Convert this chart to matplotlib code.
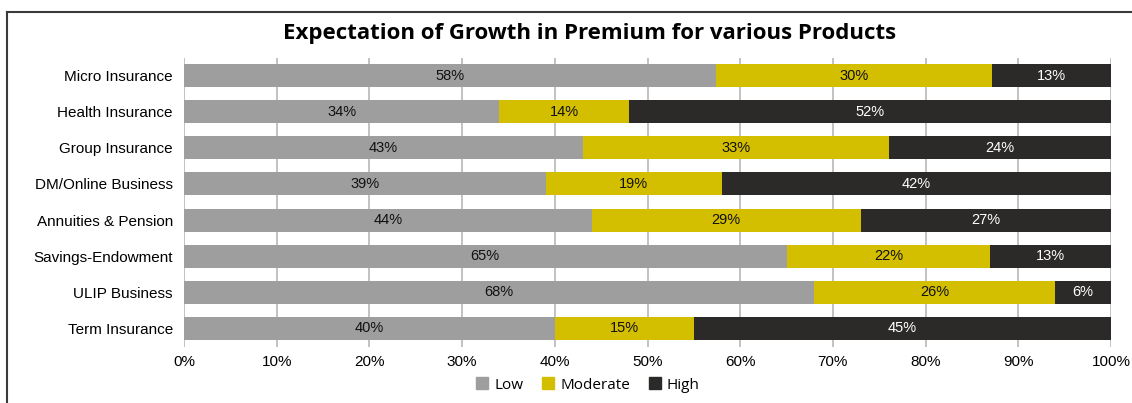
import numpy as np
import matplotlib.pyplot as plt
from matplotlib.lines import Line2D
from matplotlib.patches import Patch

products = ["Micro Insurance", "Health Insurance", "Group Insurance", "DM/Online Business",
            "Annuities & Pension", "Savings-Endowment", "ULIP Business", "Term Insurance"]
low = [58, 34, 43, 39, 44, 65, 68, 40]
moderate = [30, 14, 33, 19, 29, 22, 26, 15]
high = [13, 52, 24, 42, 27, 13, 6, 45]

series = ["Low", "Moderate", "High"]
colors = ["#9d9e9d", "#d3be00", "#2b2a28"]
text_colors = ["#111111", "#111111", "#ffffff"]


def plot_chart():
    """Draw the 100% stacked bar chart."""
    fig = plt.figure(figsize=(11.32, 4.03), dpi=100)
    ax = fig.add_axes([184 / 1132, 1 - 346.5 / 403, 927 / 1132, 289 / 403])

    data = np.array([low, moderate, high], dtype=float)
    shares = data / data.sum(axis=0) * 100
    y = np.arange(len(products))

    left = np.zeros(len(products))
    for i, name in enumerate(series):
        ax.barh(y, shares[i], left=left, height=0.64, color=colors[i],
                label=name, zorder=3)
        for j in range(len(products)):
            ax.text(left[j] + shares[i][j] / 2, y[j], f"{int(data[i][j])}%",
                    ha="center", va="center", fontsize=10.5,
                    family="Liberation Sans", color=text_colors[i], zorder=4)
        left += shares[i]

    ax.set_xlim(0, 100)
    ax.set_ylim(len(products) - 0.5, -0.5)
    ax.set_yticks(y)
    ax.set_yticklabels(products, family="Liberation Sans", fontsize=11)
    ax.set_xticks(np.arange(0, 101, 10))
    ax.set_xticklabels([f"{v}%" for v in range(0, 101, 10)],
                       family="Liberation Sans", fontsize=11)
    ax.tick_params(axis="x", length=0, pad=6)
    ax.tick_params(axis="y", length=0, pad=8)
    ax.grid(axis="x", color="#b8b8b8", linewidth=1.2, zorder=0)
    for s in ax.spines.values():
        s.set_visible(False)

    fig.text(590 / 1132, 1 - 33 / 403,
             "Expectation of Growth in Premium for various Products",
             ha="center", va="center", fontsize=16, fontweight="bold",
             family="Open Sans")

    handles = [Patch(color=c) for c in colors]
    fig.legend(handles, series, loc="center", bbox_to_anchor=(588 / 1132, 1 - 385 / 403),
               ncol=3, frameon=False, prop={"family": "Open Sans", "size": 11},
               handlelength=0.8, handleheight=0.8, handletextpad=0.4, columnspacing=1.2)

    # frame around the chart
    fig.add_artist(Line2D([7 / 1132, 7 / 1132], [0, 1 - 12 / 403],
                          transform=fig.transFigure, color="#3a3a3a", linewidth=1.5))
    fig.add_artist(Line2D([7 / 1132, 1], [1 - 12 / 403, 1 - 12 / 403],
                          transform=fig.transFigure, color="#3a3a3a", linewidth=1.5))

    fig.savefig("out.png", dpi=100)


plot_chart()
